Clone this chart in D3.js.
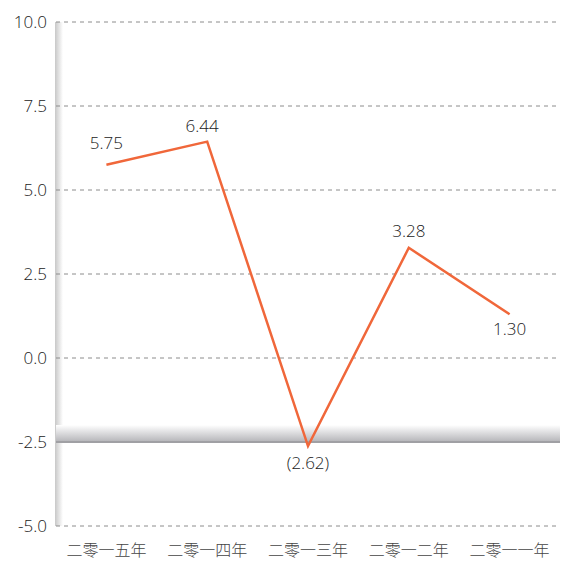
<!DOCTYPE html>
<html>
<head>
<meta charset="utf-8">
<script src="https://cdn.jsdelivr.net/npm/d3@7"></script>
<style>
  body { margin: 0; background: #fff; }
  svg text { font-family: "Open Sans", "Noto Sans", sans-serif; font-weight: 300; }
</style>
</head>
<body>
<div id="chart"></div>
<script>
// data
const categories = ['二零一五年', '二零一四年', '二零一三年', '二零一二年', '二零一一年'];
const values = [5.75, 6.44, -2.62, 3.28, 1.30];
const labels = ['5.75', '6.44', '(2.62)', '3.28', '1.30'];
const yTicks = [10, 7.5, 5, 2.5, 0, -2.5, -5];

const width = 562;
const height = 564;
const margin = { top: 22, right: 2, bottom: 38, left: 56 };
const innerW = width - margin.left - margin.right;
const innerH = height - margin.top - margin.bottom;

const svg = d3.select('#chart').append('svg')
    .attr('width', width).attr('height', height);

const defs = svg.append('defs');
const wallGrad = defs.append('linearGradient').attr('id', 'wall')
    .attr('x1', 0).attr('x2', 1).attr('y1', 0).attr('y2', 0);
wallGrad.append('stop').attr('offset', '0%').attr('stop-color', '#c8c8c8');
wallGrad.append('stop').attr('offset', '100%').attr('stop-color', '#ffffff');
const floorGrad = defs.append('linearGradient').attr('id', 'floor')
    .attr('x1', 0).attr('x2', 0).attr('y1', 0).attr('y2', 1);
floorGrad.append('stop').attr('offset', '0%').attr('stop-color', '#ffffff');
floorGrad.append('stop').attr('offset', '100%').attr('stop-color', '#b4b4b8');

const g = svg.append('g').attr('transform', 'translate(' + margin.left + ',' + margin.top + ')');

const x = d3.scaleBand().domain(categories).range([0, innerW]);
const y = d3.scaleLinear().domain([-5, 10]).range([innerH, 0]);

// left wall shading
g.append('rect')
    .attr('x', -1).attr('y', 0)
    .attr('width', 8).attr('height', innerH)
    .attr('fill', 'url(#wall)');

// grid lines
g.append('g').selectAll('line').data(yTicks.filter((d) => d !== -2.5)).enter()
    .append('line')
    .attr('x1', 0).attr('x2', innerW)
    .attr('y1', (d) => y(d)).attr('y2', (d) => y(d))
    .attr('stroke', '#8c8c8c').attr('stroke-width', 1)
    .attr('stroke-dasharray', '4,4');

// floor band at -2.5
g.append('rect')
    .attr('x', 0).attr('y', y(-2.5) - 17)
    .attr('width', innerW).attr('height', 17)
    .attr('fill', 'url(#floor)');
g.append('line')
    .attr('x1', 0).attr('x2', innerW)
    .attr('y1', y(-2.5)).attr('y2', y(-2.5))
    .attr('stroke', '#a0a0a4').attr('stroke-width', 2);

// y axis labels (plain hyphen for negatives, as in the picture)
const fmt = (d) => d.toFixed(1);
const yAxis = d3.axisLeft(y).tickValues(yTicks).tickFormat(fmt).tickSize(0).tickPadding(9);
const yg = g.append('g').call(yAxis);
yg.select('.domain').remove();
yg.selectAll('text').attr('font-size', 17).attr('fill', '#222')
    .style('font-family', '"Open Sans", sans-serif').style('font-weight', 300);

// x axis labels
const xAxis = d3.axisBottom(x).tickSize(0).tickPadding(19);
const xg = g.append('g').attr('transform', 'translate(0,' + innerH + ')').call(xAxis);
xg.select('.domain').remove();
xg.selectAll('text')
    .attr('font-size', 16).attr('fill', '#444')
    .style('font-family', '"Noto Sans CJK SC", sans-serif')
    .style('font-weight', 300);

// line
const pts = categories.map((c, i) => ({ cat: c, value: values[i], label: labels[i] }));
const line = d3.line()
    .x((d) => x(d.cat) + x.bandwidth() / 2)
    .y((d) => y(d.value));

g.append('path')
    .datum(pts)
    .attr('d', line)
    .attr('fill', 'none')
    .attr('stroke', '#f0673a')
    .attr('stroke-width', 2.5)
    .attr('stroke-linejoin', 'miter');

// value label placement (baseline offset from the point, px)
const labelDx = [0, -5, 0, 0, 0];
const labelDy = [-16, -10, 23, -11, 21];
g.append('g').selectAll('text').data(pts).enter()
    .append('text')
    .attr('x', (d, i) => x(d.cat) + x.bandwidth() / 2 + labelDx[i])
    .attr('y', (d, i) => y(d.value) + labelDy[i])
    .attr('text-anchor', 'middle')
    .attr('font-size', 17)
    .attr('fill', '#222')
    .text((d) => d.label);
</script>
</body>
</html>
